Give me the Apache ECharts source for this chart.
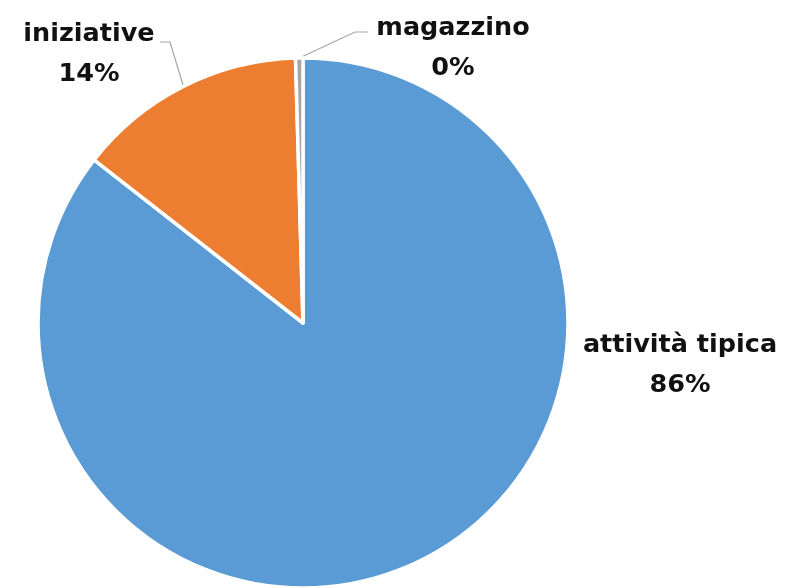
<!DOCTYPE html>
<html>
<head>
<meta charset="utf-8">
<script src="https://cdn.jsdelivr.net/npm/echarts@6/dist/echarts.min.js"></script>
<style>
html,body{margin:0;padding:0;background:#fff;}
#chart{width:790px;height:588px;}
</style>
</head>
<body>
<div id="chart"></div>
<script>
const categories = ['attività tipica', 'iniziative', 'magazzino'];
const values = [85.55, 14.0, 0.45];
const colors = ['#5B9BD5', '#ED7D31', '#A5A5A5'];

// label anchor positions (annotation placement)
const labelPos = [
  {x: 680, y: 365, line: null},
  {x: 89, y: 54, line: [[170, 42], [160, 42]]},
  {x: 453, y: 48, line: [[355, 32], [368, 32]]}
];

const chart = echarts.init(document.getElementById('chart'), null, {renderer: 'canvas'});
const data = categories.map((c, i) => ({
  name: c,
  value: values[i],
  itemStyle: {color: colors[i]},
  labelLine: {show: i !== 0}
}));

chart.setOption({
  animation: false,
  backgroundColor: '#ffffff',
  series: [{
    type: 'pie',
    center: [303, 323],
    radius: 265,
    startAngle: 90,
    clockwise: true,
    data: data,
    itemStyle: {borderColor: '#ffffff', borderWidth: 3.5},
    label: {
      show: true,
      position: 'outside',
      overflow: 'none',
      formatter: p => p.name + '\n' + Math.round(p.percent) + '%',
      fontFamily: 'DejaVu Sans',
      fontWeight: 'bold',
      fontSize: 25.5,
      lineHeight: 40,
      color: '#111111',
      align: 'center'
    },
    labelLine: {
      show: true,
      lineStyle: {color: '#A6A6A6', width: 1.2}
    },
    labelLayout: function (params) {
      const i = params.dataIndex;
      const lp = labelPos[i];
      const res = {x: lp.x, y: lp.y, align: 'center', verticalAlign: 'middle'};
      if (lp.line && params.labelLinePoints) {
        res.labelLinePoints = [params.labelLinePoints[0], lp.line[0], lp.line[1]];
      }
      return res;
    }
  }]
});
</script>
</body>
</html>
